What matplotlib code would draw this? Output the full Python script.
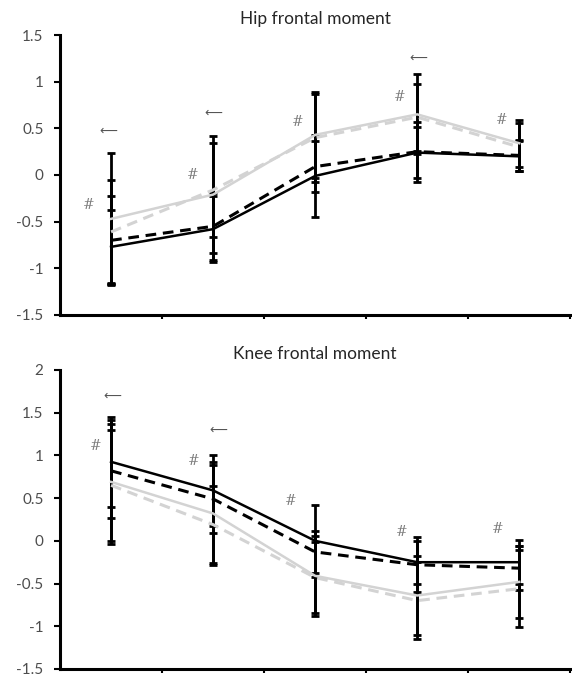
import numpy as np
import matplotlib.pyplot as plt

# =============
# DATA
# =============

categories = [1, 2, 3, 4, 5]

# Hip frontal moment: means and SD for the four conditions
hip_black = [-0.77, -0.58, -0.01, 0.24, 0.20]
hip_black_sd = [0.39, 0.35, 0.44, 0.27, 0.16]
hip_black_dash = [-0.70, -0.55, 0.09, 0.25, 0.21]
hip_black_dash_sd = [0.47, 0.36, 0.27, 0.32, 0.17]
hip_grey = [-0.47, -0.21, 0.43, 0.65, 0.34]
hip_grey_sd = [0.71, 0.63, 0.46, 0.43, 0.25]
hip_grey_dash = [-0.61, -0.16, 0.40, 0.62, 0.30]
hip_grey_dash_sd = [0.56, 0.50, 0.47, 0.36, 0.26]

# Knee frontal moment
knee_black = [0.925, 0.59, 0.00, -0.25, -0.25]
knee_black_sd = [0.53, 0.42, 0.42, 0.25, 0.26]
knee_black_dash = [0.82, 0.49, -0.13, -0.28, -0.32]
knee_black_dash_sd = [0.55, 0.40, 0.25, 0.32, 0.26]
knee_grey = [0.69, 0.32, -0.41, -0.64, -0.48]
knee_grey_sd = [0.73, 0.60, 0.47, 0.46, 0.42]
knee_grey_dash = [0.65, 0.19, -0.43, -0.70, -0.56]
knee_grey_dash_sd = [0.65, 0.45, 0.42, 0.45, 0.45]

# Significance markers: (x, y, symbol)
ARROW = '\u27f5'
hip_marks = [(0.97, 0.47, ARROW), (0.78, -0.32, '#'),
             (2.00, 0.66, ARROW), (1.80, 0.00, '#'),
             (2.83, 0.57, '#'), (3.83, 0.84, '#'),
             (4.01, 1.25, ARROW), (4.83, 0.59, '#')]
knee_marks = [(1.01, 1.69, ARROW), (0.85, 1.11, '#'),
              (2.05, 1.29, ARROW), (1.81, 0.93, '#'),
              (2.76, 0.47, '#'), (3.85, 0.10, '#'),
              (4.79, 0.14, '#')]

hip_yticks = [-1.5, -1, -0.5, 0, 0.5, 1, 1.5]
knee_yticks = [-1.5, -1, -0.5, 0, 0.5, 1, 1.5, 2]

GREY = '#d3d3d3'
TXT = '#4d4d4d'

plt.rcParams['font.family'] = ['Lato', 'DejaVu Sans']

fig = plt.figure(figsize=(5.72, 6.8), dpi=100)
ax_hip = fig.add_axes([0.105, 0.5368, 0.892, 0.4117])
ax_knee = fig.add_axes([0.105, 0.0162, 0.892, 0.4397])


def draw_panel(ax, series, marks, yticks, title):
    # error bars first, mean curves on top
    for means, sd, color, ls in series:
        ax.errorbar(categories, means, yerr=sd, fmt='none', ecolor='black',
                    elinewidth=2, capsize=3, capthick=2, zorder=2)
    for means, sd, color, ls in series:
        if ls == '--':
            ax.plot(categories, means, color=color, lw=2.2, ls=(0, (3.5, 2.2)), zorder=3)
        else:
            ax.plot(categories, means, color=color, lw=1.8, ls='-', zorder=3)

    for x, y, s in marks:
        if s == '#':
            ax.text(x, y, s, color='#7f7f7f', fontsize=10, style='italic',
                    ha='center', va='center', family='DejaVu Serif')
        else:
            ax.text(x, y, s, color='#555555', fontsize=9, ha='center',
                    va='center', family='DejaVu Sans')

    ax.set_xlim(0.5, 5.5)
    ax.set_ylim(yticks[0], yticks[-1])
    ax.set_yticks(yticks)
    ax.set_yticklabels(['%g' % t for t in yticks])
    ax.set_xticks([1.5, 2.5, 3.5, 4.5, 5.5])
    ax.set_xticklabels([])
    ax.tick_params(axis='y', direction='out', length=4, width=1.5,
                   colors='black', labelcolor=TXT, labelsize=11, pad=8)
    ax.tick_params(axis='x', direction='out', length=3, width=1.5, colors='black')
    for side in ['top', 'right']:
        ax.spines[side].set_visible(False)
    for side in ['left', 'bottom']:
        ax.spines[side].set_linewidth(2.2)
    ax.set_title(title, fontsize=12.5, color='#262626', pad=8)


draw_panel(ax_hip,
           [(hip_grey, hip_grey_sd, GREY, '-'),
            (hip_grey_dash, hip_grey_dash_sd, GREY, '--'),
            (hip_black_dash, hip_black_dash_sd, 'black', '--'),
            (hip_black, hip_black_sd, 'black', '-')],
           hip_marks, hip_yticks, 'Hip frontal moment')

draw_panel(ax_knee,
           [(knee_grey, knee_grey_sd, GREY, '-'),
            (knee_grey_dash, knee_grey_dash_sd, GREY, '--'),
            (knee_black_dash, knee_black_dash_sd, 'black', '--'),
            (knee_black, knee_black_sd, 'black', '-')],
           knee_marks, knee_yticks, 'Knee frontal moment')

fig.savefig('out.png', dpi=100)
